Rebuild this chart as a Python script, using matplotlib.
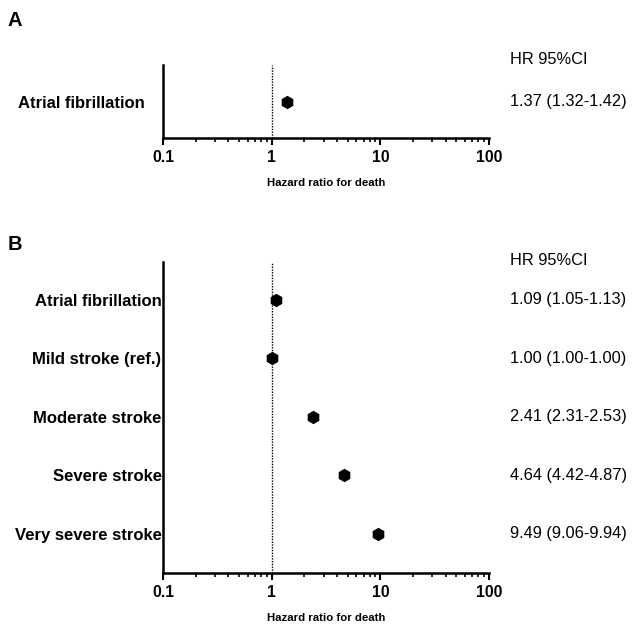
import matplotlib
matplotlib.use("Agg")
import matplotlib.pyplot as plt
from matplotlib.ticker import LogLocator, NullFormatter, FixedLocator

plt.rcParams['font.family'] = ['Liberation Sans', 'DejaVu Sans']

# Panel A data
a_labels = ["Atrial fibrillation"]
a_hr = [1.37]
a_lo = [1.32]
a_hi = [1.42]
a_text = ["1.37 (1.32-1.42)"]

# Panel B data
b_labels = ["Atrial fibrillation", "Mild stroke (ref.)", "Moderate stroke",
            "Severe stroke", "Very severe stroke"]
b_hr = [1.09, 1.00, 2.41, 4.64, 9.49]
b_lo = [1.05, 1.00, 2.31, 4.42, 9.06]
b_hi = [1.13, 1.00, 2.53, 4.87, 9.94]
b_text = ["1.09 (1.05-1.13)", "1.00 (1.00-1.00)", "2.41 (2.31-2.53)",
          "4.64 (4.42-4.87)", "9.49 (9.06-9.94)"]

xticks = [0.1, 1, 10, 100]
xticklabels = ["0.1", "1", "10", "100"]
header = "HR 95%CI"

W, H = 635, 626
fig = plt.figure(figsize=(W / 100, H / 100), dpi=100)

def forest(ax, labels, hr, lo, hi, texts, ylim, ypad, header_y):
    n = len(labels)
    ys = list(range(1, n + 1))
    xerr = [[h - l for h, l in zip(hr, lo)], [u - h for h, u in zip(hr, hi)]]
    ax.axvline(1, color='black', linestyle=(0, (1.0, 1.0)), linewidth=1.0, zorder=1)
    ax.errorbar(hr, ys, xerr=xerr, fmt='h', color='black', markersize=8.5,
                ecolor='black', elinewidth=1.5, capsize=3, capthick=1.5, zorder=3)
    ax.set_xscale('log')
    ax.set_xlim(0.1, 100)
    ax.set_ylim(*ylim)
    ax.set_yticks(ys)
    ax.set_yticklabels(labels, fontsize=12, fontweight='bold')
    ax.tick_params(axis='y', length=0, pad=ypad)
    ax.xaxis.set_major_locator(FixedLocator(xticks))
    ax.set_xticklabels(xticklabels, fontsize=11.3, fontweight='bold')
    ax.xaxis.set_minor_locator(LogLocator(base=10, subs=range(2, 10)))
    ax.xaxis.set_minor_formatter(NullFormatter())
    ax.tick_params(axis='x', which='major', length=5, width=1.5, direction='out', pad=3.5)
    ax.tick_params(axis='x', which='minor', length=3, width=1.2, direction='out')
    for s in ['top', 'right']:
        ax.spines[s].set_visible(False)
    for s in ['left', 'bottom']:
        ax.spines[s].set_linewidth(1.8)
    ax.set_xlabel("Hazard ratio for death", fontsize=8.2, fontweight='bold', labelpad=9.5)
    for y, t in zip(ys, texts):
        ax.text(1.0 + 21 / 326, y, t, transform=ax.get_yaxis_transform(),
                fontsize=11.8, va='center', ha='left')
    fig.text(510 / W, 1 - header_y / H, header, fontsize=11.8, va='center', ha='left')

axA = fig.add_axes([163 / W, 1 - 138 / H, 326 / W, 73 / H])
forest(axA, a_labels, a_hr, a_lo, a_hi, a_text, (1.97, 0.03), 13, 60)

axB = fig.add_axes([163 / W, 1 - 573 / H, 326 / W, 311 / H])
forest(axB, b_labels, b_hr, b_lo, b_hi, b_text, (5.67, 0.35), 1, 260)

fig.text(8 / W, 1 - 26 / H, "A", fontsize=14.5, fontweight='bold')
fig.text(8 / W, 1 - 250 / H, "B", fontsize=14.5, fontweight='bold')

fig.savefig("out.png", dpi=100)
